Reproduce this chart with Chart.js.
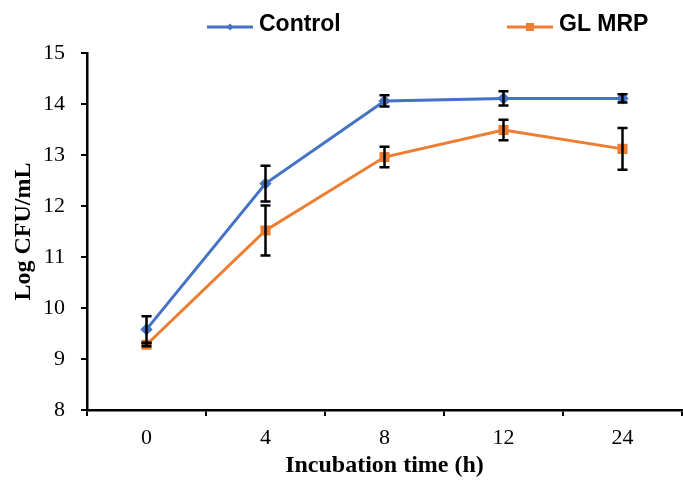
<!DOCTYPE html>
<html>
<head>
<meta charset="utf-8">
<script src="https://cdn.jsdelivr.net/npm/chart.js@4"></script>
<style>
    html, body { margin: 0; padding: 0; background: #fff; }
    #wrap { width: 683px; height: 482px; }
</style>
</head>
<body>
<div id="wrap"><canvas id="lineChart" width="683" height="482"></canvas></div>
<script>
// Data
const hours = ['0', '4', '8', '12', '24'];
const controlValues = [9.58, 12.44, 14.06, 14.11, 14.11];
const controlErrors = [0.26, 0.35, 0.11, 0.14, 0.08];
const glmrpValues = [9.28, 11.52, 12.96, 13.49, 13.12];
const glmrpErrors = [0.03, 0.49, 0.20, 0.20, 0.41];
const yTicks = [8, 9, 10, 11, 12, 13, 14, 15];

const blue = '#4472C4';
const orange = '#ED7D31';
const serif = '"Liberation Serif", "Times New Roman", serif';

// Vertical error bars with caps
const errorBars = {
    id: 'errorBars',
    afterDatasetsDraw(chart) {
        const ctx = chart.ctx;
        const yScale = chart.scales.y;
        ctx.save();
        ctx.strokeStyle = '#000';
        ctx.lineWidth = 2.5;
        chart.data.datasets.forEach((ds, i) => {
            const meta = chart.getDatasetMeta(i);
            meta.data.forEach((pt, j) => {
                const top = yScale.getPixelForValue(ds.data[j] + ds.errors[j]);
                const bot = yScale.getPixelForValue(ds.data[j] - ds.errors[j]);
                const x = pt.x;
                ctx.beginPath();
                ctx.moveTo(x, top); ctx.lineTo(x, bot);
                ctx.moveTo(x - 5, top); ctx.lineTo(x + 5, top);
                ctx.moveTo(x - 5, bot); ctx.lineTo(x + 5, bot);
                ctx.stroke();
            });
        });
        ctx.restore();
    }
};

// Legend placed as in the original figure
const spreadLegend = {
    id: 'spreadLegend',
    afterDraw(chart) {
        const ctx = chart.ctx;
        const items = [
            { ds: chart.data.datasets[0], x: 207 },
            { ds: chart.data.datasets[1], x: 507 }
        ];
        ctx.save();
        items.forEach(item => {
            const y = 27;
            ctx.strokeStyle = item.ds.borderColor;
            ctx.lineWidth = 3;
            ctx.beginPath();
            ctx.moveTo(item.x, y); ctx.lineTo(item.x + 46, y);
            ctx.stroke();
            ctx.fillStyle = item.ds.borderColor;
            const cx = item.x + 23;
            if (item.ds.pointStyle === 'rect') {
                ctx.fillRect(cx - 4, y - 4, 8, 8);
            } else {
                ctx.beginPath();
                ctx.moveTo(cx, y - 3.5); ctx.lineTo(cx + 3.5, y);
                ctx.lineTo(cx, y + 3.5); ctx.lineTo(cx - 3.5, y);
                ctx.closePath(); ctx.fill();
            }
            ctx.fillStyle = '#000';
            ctx.font = 'bold 23px "Liberation Sans", Arial, sans-serif';
            ctx.textBaseline = 'middle';
            ctx.fillText(item.ds.label, item.x + 52, y - 2);
        });
        ctx.restore();
    }
};

const ctx = document.getElementById('lineChart').getContext('2d');
new Chart(ctx, {
    type: 'line',
    data: {
        labels: hours,
        datasets: [{
            label: 'Control',
            data: controlValues,
            errors: controlErrors,
            borderColor: blue,
            backgroundColor: blue,
            borderWidth: 3,
            pointStyle: 'rectRot',
            pointRadius: 4,
            tension: 0
        }, {
            label: 'GL MRP',
            data: glmrpValues,
            errors: glmrpErrors,
            borderColor: orange,
            backgroundColor: orange,
            borderWidth: 3,
            pointStyle: 'rect',
            pointRadius: 5,
            tension: 0
        }]
    },
    options: {
        responsive: false,
        animation: false,
        layout: {
            autoPadding: false,
            padding: { top: 53, right: 1, left: 0, bottom: 0 }
        },
        plugins: {
            legend: { display: false },
            tooltip: { enabled: false }
        },
        scales: {
            x: {
                offset: true,
                afterFit: function(scale) {
                    scale.height = 72;
                    scale.paddingLeft = 0;
                    scale.paddingRight = 0;
                },
                grid: {
                    offset: true,
                    drawOnChartArea: false,
                    drawTicks: true,
                    tickLength: 6,
                    color: '#000',
                    lineWidth: 2
                },
                border: { color: '#000', width: 2.5 },
                ticks: {
                    color: '#000',
                    padding: 9,
                    font: { family: serif, size: 22 }
                },
                title: {
                    display: true,
                    text: 'Incubation time (h)',
                    color: '#000',
                    padding: { top: 0, bottom: 2 },
                    font: { family: serif, size: 24, weight: 'bold' }
                }
            },
            y: {
                min: yTicks[0],
                max: yTicks[yTicks.length - 1],
                afterFit: function(scale) { scale.width = 87; },
                afterBuildTicks: function(scale) {
                    scale.ticks = yTicks.map(v => ({ value: v }));
                },
                grid: {
                    drawOnChartArea: false,
                    drawTicks: true,
                    tickLength: 6,
                    color: '#000',
                    lineWidth: 2
                },
                border: { color: '#000', width: 2.5 },
                ticks: {
                    color: '#000',
                    padding: 16,
                    font: { family: serif, size: 22 }
                },
                title: {
                    display: true,
                    text: 'Log CFU/mL',
                    color: '#000',
                    padding: { top: 9, bottom: 0 },
                    font: { family: serif, size: 24, weight: 'bold' }
                }
            }
        }
    },
    plugins: [errorBars, spreadLegend]
});
</script>
</body>
</html>
